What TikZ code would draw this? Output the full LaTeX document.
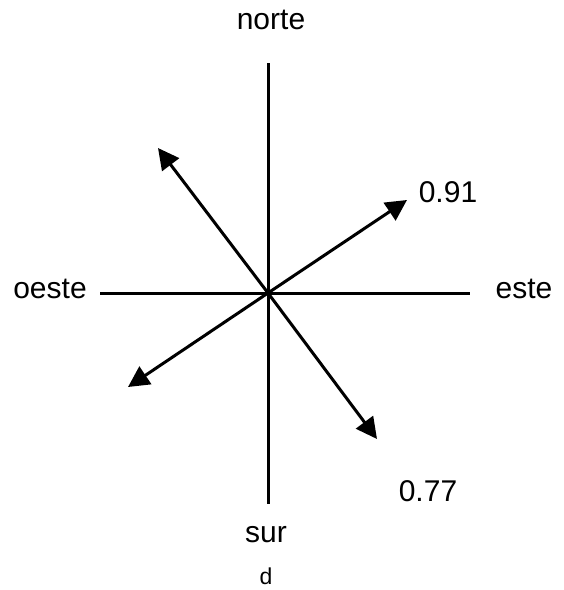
\documentclass[tikz,border=0pt]{standalone}
\usepackage{fontspec}
\setmainfont{Liberation Sans}
\usetikzlibrary{arrows.meta}
\begin{document}
\begin{tikzpicture}[x=1pt,y=-1pt,
  axis/.style={line width=3pt},
  vec/.style={line width=3pt,-{Triangle[length=21pt,width=21pt]}},
  lbl/.style={anchor=base,inner sep=0pt,font=\fontsize{30}{34}\selectfont},
  smalllbl/.style={anchor=base,inner sep=0pt,font=\fontsize{23}{26}\selectfont}]
\useasboundingbox (0,0) rectangle (564,590);
\coordinate (o) at (268,293);
\coordinate (n) at (268,63);
\coordinate (s) at (268,504);
\coordinate (w) at (100,293);
\coordinate (e) at (470,293);
\coordinate (ul) at (158,148);
\coordinate (ur) at (407,200);
\coordinate (ll) at (128,387);
\coordinate (lr) at (377,439);
\draw[axis] (n) -- (s);
\draw[axis] (w) -- (e);
\draw[vec] (o) -- (ul);
\draw[vec] (o) -- (ur);
\draw[vec] (o) -- (ll);
\draw[vec] (o) -- (lr);
\node[lbl] (tn) at (271,29) {norte};
\node[lbl] (tw) at (50,298) {oeste};
\node[lbl] (te) at (524,298) {este};
\node[lbl] (ts) at (266,542) {sur};
\node[lbl] (t91) at (448,202) {0.91};
\node[lbl] (t77) at (428,501) {0.77};
\node[smalllbl] (td) at (266,584) {d};
\end{tikzpicture}
\end{document}
